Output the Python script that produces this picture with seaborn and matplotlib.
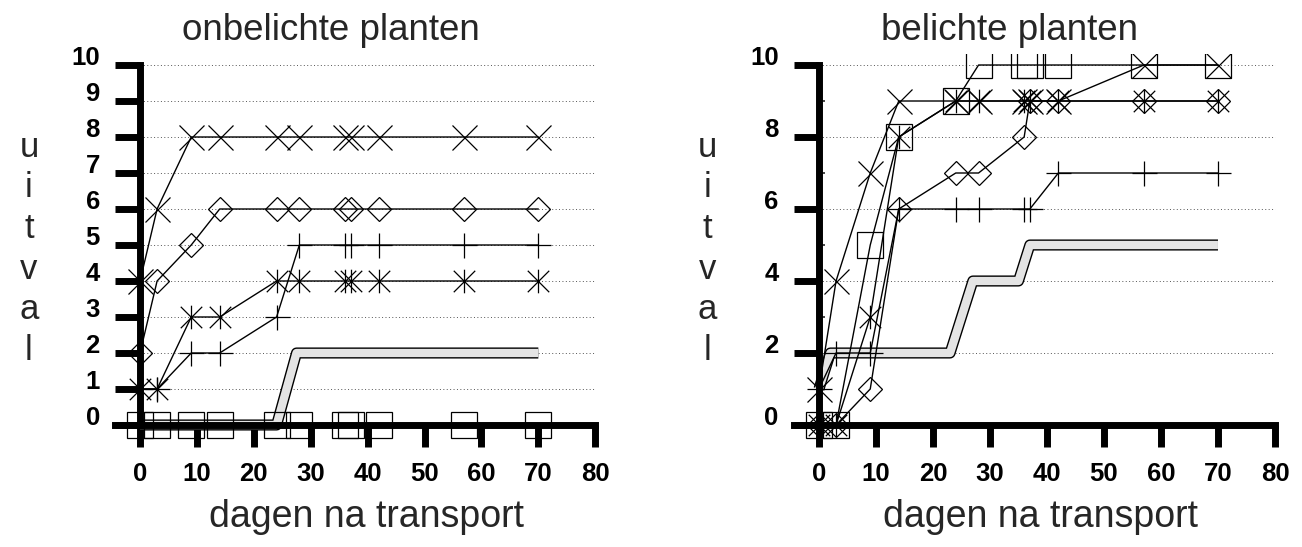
import numpy as np
import pandas as pd
import matplotlib
matplotlib.use("Agg")
import matplotlib.pyplot as plt
from matplotlib.path import Path
import seaborn as sns

# dagen waarop geteld is
dagen = [0, 3, 9, 14, 24, 28, 36, 37, 42, 57, 70]

# onbelichte planten
onb_kruis = [4, 6, 8, 8, 8, 8, 8, 8, 8, 8, 8]
onb_ruit = [2, 4, 5, 6, 6, 6, 6, 6, 6, 6, 6]
onb_plus = [1, 1, 2, 2, 3, 5, 5, 5, 5, 5, 5]
onb_ster = [1, 1, 3, 3, 4, 4, 4, 4, 4, 4, 4]
onb_vierkant = [0, 0, 0, 0, 0, 0, 0, 0, 0, 0, 0]
onb_band_x = [0, 24, 27.5, 70]
onb_band_y = [0, 0, 2, 2]

# belichte planten
bel_kruis = [1, 4, 7, 9, 9, 9, 9, 9, 9, 10, 10]
bel_ruit = [0, 0, 1, 6, 7, 7, 8, 9, 9, 9, 9]
bel_plus = [1, 2, 2, 6, 6, 6, 6, 6, 7, 7, 7]
bel_ster = [0, 0, 3, 8, 9, 9, 9, 9, 9, 9, 9]
bel_vierkant = [0, 0, 5, 8, 9, 10, 10, 10, 10, 10, 10]
bel_band_x = [0, 2, 23, 27, 35, 37, 70]
bel_band_y = [1, 2, 2, 4, 4, 5, 5]

x_ticks = [0, 10, 20, 30, 40, 50, 60, 70, 80]
onb_yticks = [0, 1, 2, 3, 4, 5, 6, 7, 8, 9, 10]
bel_yticks = [0, 2, 4, 6, 8, 10]

sns.set_style("white")
plt.rcParams["font.family"] = ["Liberation Sans", "DejaVu Sans"]

# asterisk: kruis met verticale streep
ster = Path([(-1, -1), (1, 1), (-1, 1), (1, -1), (0, -1.1), (0, 1.1)],
            [Path.MOVETO, Path.LINETO] * 3)

fig = plt.figure(figsize=(13.02, 5.47), dpi=100)
ax1 = fig.add_axes([0.0857, 0.1704, 0.3802, 0.7305])
ax2 = fig.add_axes([0.6071, 0.1704, 0.3809, 0.7305])


def band(ax, bx, by):
    sns.lineplot(x=bx, y=by, ax=ax, color="black", lw=8, sort=False,
                 solid_capstyle="butt", solid_joinstyle="round", zorder=1.2)
    sns.lineplot(x=bx, y=by, ax=ax, color="#e4e4e4", lw=6, sort=False,
                 solid_capstyle="butt", solid_joinstyle="round", zorder=1.3)


def reeks(ax, y, marker, ms):
    sns.lineplot(x=dagen, y=y, ax=ax, color="black", lw=1, marker=marker,
                 markersize=ms, mfc="none", mec="black", mew=0.9,
                 sort=False, legend=False, zorder=2)


def opmaak(ax, yticks, grid, titel):
    ax.set_xlim(-5, 82)
    ax.set_ylim(-0.8, 10.3)
    ax.spines["top"].set_visible(False)
    ax.spines["right"].set_visible(False)
    ax.spines["left"].set_position(("data", 0))
    ax.spines["bottom"].set_position(("data", 0))
    ax.spines["left"].set_bounds(0, 10)
    ax.spines["bottom"].set_bounds(-4.4, 80)
    for s in ["left", "bottom"]:
        ax.spines[s].set_linewidth(5)
        ax.spines[s].set_color("black")
    ax.hlines(grid, 0, 80, colors="#555555", linestyles=(0, (1, 2.5)),
              lw=0.7, zorder=0.5)
    ax.set_xticks(x_ticks)
    ax.set_yticks(yticks)
    ax.tick_params(axis="both", direction="out", width=5, color="black",
                   labelsize=18.5, labelcolor="black", bottom=True, left=True)
    ax.tick_params(axis="x", length=16, pad=11)
    ax.tick_params(axis="y", length=18, pad=11)
    for lab in ax.get_xticklabels() + ax.get_yticklabels():
        lab.set_fontweight("bold")
    for lab in ax.get_yticklabels():
        lab.set_verticalalignment("baseline")
    ax.set_title(titel, fontsize=26.5, x=0.442, pad=10)
    ax.set_xlabel("dagen na transport", fontsize=27, labelpad=9)
    ax.set_ylabel("u\ni\nt\nv\na\nl", fontsize=25, rotation=0,
                  va="center", ha="center", linespacing=1.29)
    ax.yaxis.set_label_coords(-0.167, 0.513)


# linker paneel
band(ax1, onb_band_x, onb_band_y)
reeks(ax1, onb_vierkant, "s", 18.5)
reeks(ax1, onb_kruis, "x", 18)
reeks(ax1, onb_ruit, "D", 12.5)
reeks(ax1, onb_plus, "+", 18)
reeks(ax1, onb_ster, ster, 17)
opmaak(ax1, onb_yticks, onb_yticks[1:], "onbelichte planten")
ax1.xaxis.label.set_x(0.514)

# rechter paneel
band(ax2, bel_band_x, bel_band_y)
reeks(ax2, bel_vierkant, "s", 18.5)
reeks(ax2, bel_kruis, "x", 18)
reeks(ax2, bel_ruit, "D", 12.5)
reeks(ax2, bel_plus, "+", 18)
reeks(ax2, bel_ster, ster, 17)
opmaak(ax2, bel_yticks, bel_yticks[1:], "belichte planten")
ax2.xaxis.label.set_x(0.505)
ax2.set_yticks([1, 3, 5, 7, 9], minor=True)
ax2.tick_params(axis="y", which="minor", direction="in", length=4, width=1.2,
                left=True)

fig.savefig("out.png", dpi=100)
